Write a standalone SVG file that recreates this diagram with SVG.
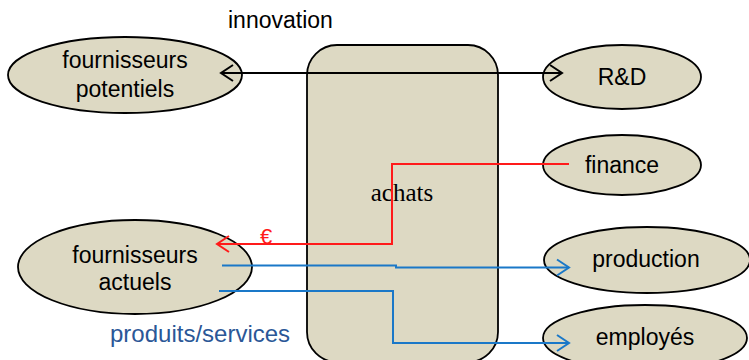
<svg xmlns="http://www.w3.org/2000/svg" width="749" height="360" viewBox="0 0 749 360">
  <style>
    .node { fill: #DDD9C3; stroke: #000; stroke-width: 1.8; }
    .lbl { font-family: "Liberation Sans", Arial, sans-serif; font-size: 23px; fill: #000; text-anchor: middle; }
    .serif { font-family: "Liberation Serif", "Times New Roman", serif; font-size: 25px; fill: #000; text-anchor: middle; }
    .link { fill: none; stroke-width: 2; }
    .black { stroke: #000; }
    .red { stroke: #FF1A1A; }
    .blue { stroke: #1A78C8; }
  </style>
  <defs>
    <marker id="arrBlack" viewBox="-14 -10 16 20" refX="0" refY="0" markerWidth="16" markerHeight="20" markerUnits="userSpaceOnUse" orient="auto-start-reverse">
      <path d="M-12,-8 L0,0 L-12,8" fill="none" stroke="#000" stroke-width="2"/>
    </marker>
    <marker id="arrRed" viewBox="-14 -10 16 20" refX="0" refY="0" markerWidth="16" markerHeight="20" markerUnits="userSpaceOnUse" orient="auto">
      <path d="M-12,-8 L0,0 L-12,8" fill="none" stroke="#FF1A1A" stroke-width="2"/>
    </marker>
    <marker id="arrBlue" viewBox="-14 -10 16 20" refX="0" refY="0" markerWidth="16" markerHeight="20" markerUnits="userSpaceOnUse" orient="auto">
      <path d="M-12,-8 L0,0 L-12,8" fill="none" stroke="#1A78C8" stroke-width="2"/>
    </marker>
  </defs>

  <rect width="749" height="360" fill="#fff"/>

  <!-- central purchasing block -->
  <g id="achats">
    <rect class="node" x="307" y="45" width="191" height="317" rx="30" ry="30"/>
    <text class="serif" x="402" y="201">achats</text>
  </g>

  <g id="fournisseurs-potentiels">
    <ellipse class="node" cx="125" cy="75" rx="117" ry="38"/>
    <text class="lbl" x="125" y="68">fournisseurs</text>
    <text class="lbl" x="125" y="97">potentiels</text>
  </g>

  <g id="fournisseurs-actuels">
    <ellipse class="node" cx="135" cy="267" rx="117" ry="47"/>
    <text class="lbl" x="135" y="263">fournisseurs</text>
    <text class="lbl" x="135" y="290">actuels</text>
  </g>

  <g id="rd">
    <ellipse class="node" cx="622" cy="77" rx="79" ry="32"/>
    <text class="lbl" x="622" y="85">R&amp;D</text>
  </g>

  <g id="finance">
    <ellipse class="node" cx="622" cy="165" rx="79" ry="30"/>
    <text class="lbl" x="622" y="173">finance</text>
  </g>

  <g id="production">
    <ellipse class="node" cx="647" cy="260" rx="103" ry="33"/>
    <text class="lbl" x="646" y="267">production</text>
  </g>

  <g id="employes">
    <ellipse class="node" cx="645" cy="338" rx="102" ry="33"/>
    <text class="lbl" x="645" y="345">employés</text>
  </g>

  <!-- flows -->
  <g id="connectors">
    <path class="link black" d="M221,73 H562" marker-start="url(#arrBlack)" marker-end="url(#arrBlack)"/>
    <path class="link red" d="M569,164 H392 V244 H217" marker-end="url(#arrRed)"/>
    <path class="link blue" d="M222,265.5 H396 V267.5 H569" marker-end="url(#arrBlue)"/>
    <path class="link blue" d="M219,291 H393 V343 H569" marker-end="url(#arrBlue)"/>
  </g>

  <!-- flow labels -->
  <text class="lbl" x="228" y="28" style="text-anchor:start">innovation</text>
  <text x="260" y="244" style="font-family:'Liberation Sans',Arial,sans-serif;font-size:22px;fill:#FF1A1A">€</text>
  <text x="110" y="342" style="font-family:'Liberation Sans',Arial,sans-serif;font-size:24px;fill:#2B5797">produits/services</text>
</svg>
